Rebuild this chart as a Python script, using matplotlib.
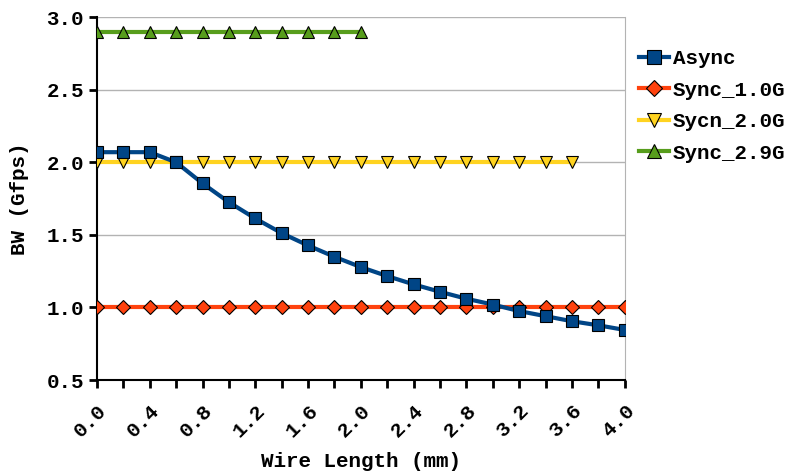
import matplotlib
matplotlib.use('Agg')
import matplotlib.pyplot as plt
import numpy as np

# wire length in mm
wire_len = [0.0, 0.2, 0.4, 0.6, 0.8, 1.0, 1.2, 1.4, 1.6, 1.8, 2.0,
            2.2, 2.4, 2.6, 2.8, 3.0, 3.2, 3.4, 3.6, 3.8, 4.0]
async_bw = [2.07, 2.07, 2.07, 2.0, 1.855, 1.725, 1.613, 1.512, 1.427, 1.349, 1.278,
            1.216, 1.159, 1.108, 1.06, 1.02, 0.975, 0.94, 0.905, 0.877, 0.845]
sync_10 = [1.0] * 21
sycn_20 = [2.0] * 19
sync_29 = [2.9] * 11

x_ticks = [0.0, 0.4, 0.8, 1.2, 1.6, 2.0, 2.4, 2.8, 3.2, 3.6, 4.0]
y_ticks = [0.5, 1.0, 1.5, 2.0, 2.5, 3.0]

plt.rcParams['font.family'] = ['Liberation Mono', 'DejaVu Sans Mono']
plt.rcParams['font.weight'] = 'bold'
fs = 15

fig = plt.figure(figsize=(7.93, 4.73), dpi=100)
ax = fig.add_axes([0.1223, 0.1966, 0.6655, 0.7670])

ax.plot(wire_len, async_bw, color='#004586', lw=3, marker='s', ms=9,
        mfc='#004586', mec='black', mew=0.8, label='Async', zorder=5)
ax.plot(wire_len, sync_10, color='#ff420e', lw=3, marker='D', ms=7,
        mfc='#ff420e', mec='black', mew=0.8, label='Sync_1.0G', zorder=4)
ax.plot(wire_len[:len(sycn_20)], sycn_20, color='#ffd320', lw=3, marker='v', ms=9,
        mfc='#ffd320', mec='black', mew=0.8, label='Sycn_2.0G', zorder=3)
ax.plot(wire_len[:len(sync_29)], sync_29, color='#579d1c', lw=3, marker='^', ms=9,
        mfc='#579d1c', mec='black', mew=0.8, label='Sync_2.9G', zorder=3)

ax.set_xlim(0, 4.0)
ax.set_ylim(0.5, 3.0)
ax.set_xticks(wire_len)
ax.set_xticklabels(['%.1f' % v if v in x_ticks else '' for v in wire_len],
                   rotation=45, ha='right', va='top', rotation_mode='anchor')
ax.set_yticks(y_ticks)
ax.set_yticklabels(['%.1f' % v for v in y_ticks])
ax.tick_params(axis='both', labelsize=fs, width=2, length=6, direction='out')
ax.tick_params(axis='x', pad=9)
ax.yaxis.grid(True, color='#b3b3b3', lw=1)
ax.set_axisbelow(True)

for s in ['left', 'bottom']:
    ax.spines[s].set_linewidth(1.5)
ax.spines['top'].set_visible(False)
ax.spines['right'].set_color('#b3b3b3')

ax.set_xlabel('Wire Length (mm)', fontsize=fs, fontweight='bold', va='center')
ax.xaxis.set_label_coords(0.5, -0.226)
ax.set_ylabel('BW (Gfps)', fontsize=fs, fontweight='bold', va='center')
ax.yaxis.set_label_coords(-0.146, 0.5)

ax.legend(loc='upper left', bbox_to_anchor=(1.012, 0.935), frameon=False,
          fontsize=fs, handlelength=1.4, handletextpad=0.2, labelspacing=0.6,
          borderaxespad=0, markerscale=1.1)

fig.savefig('out.png', dpi=100)
